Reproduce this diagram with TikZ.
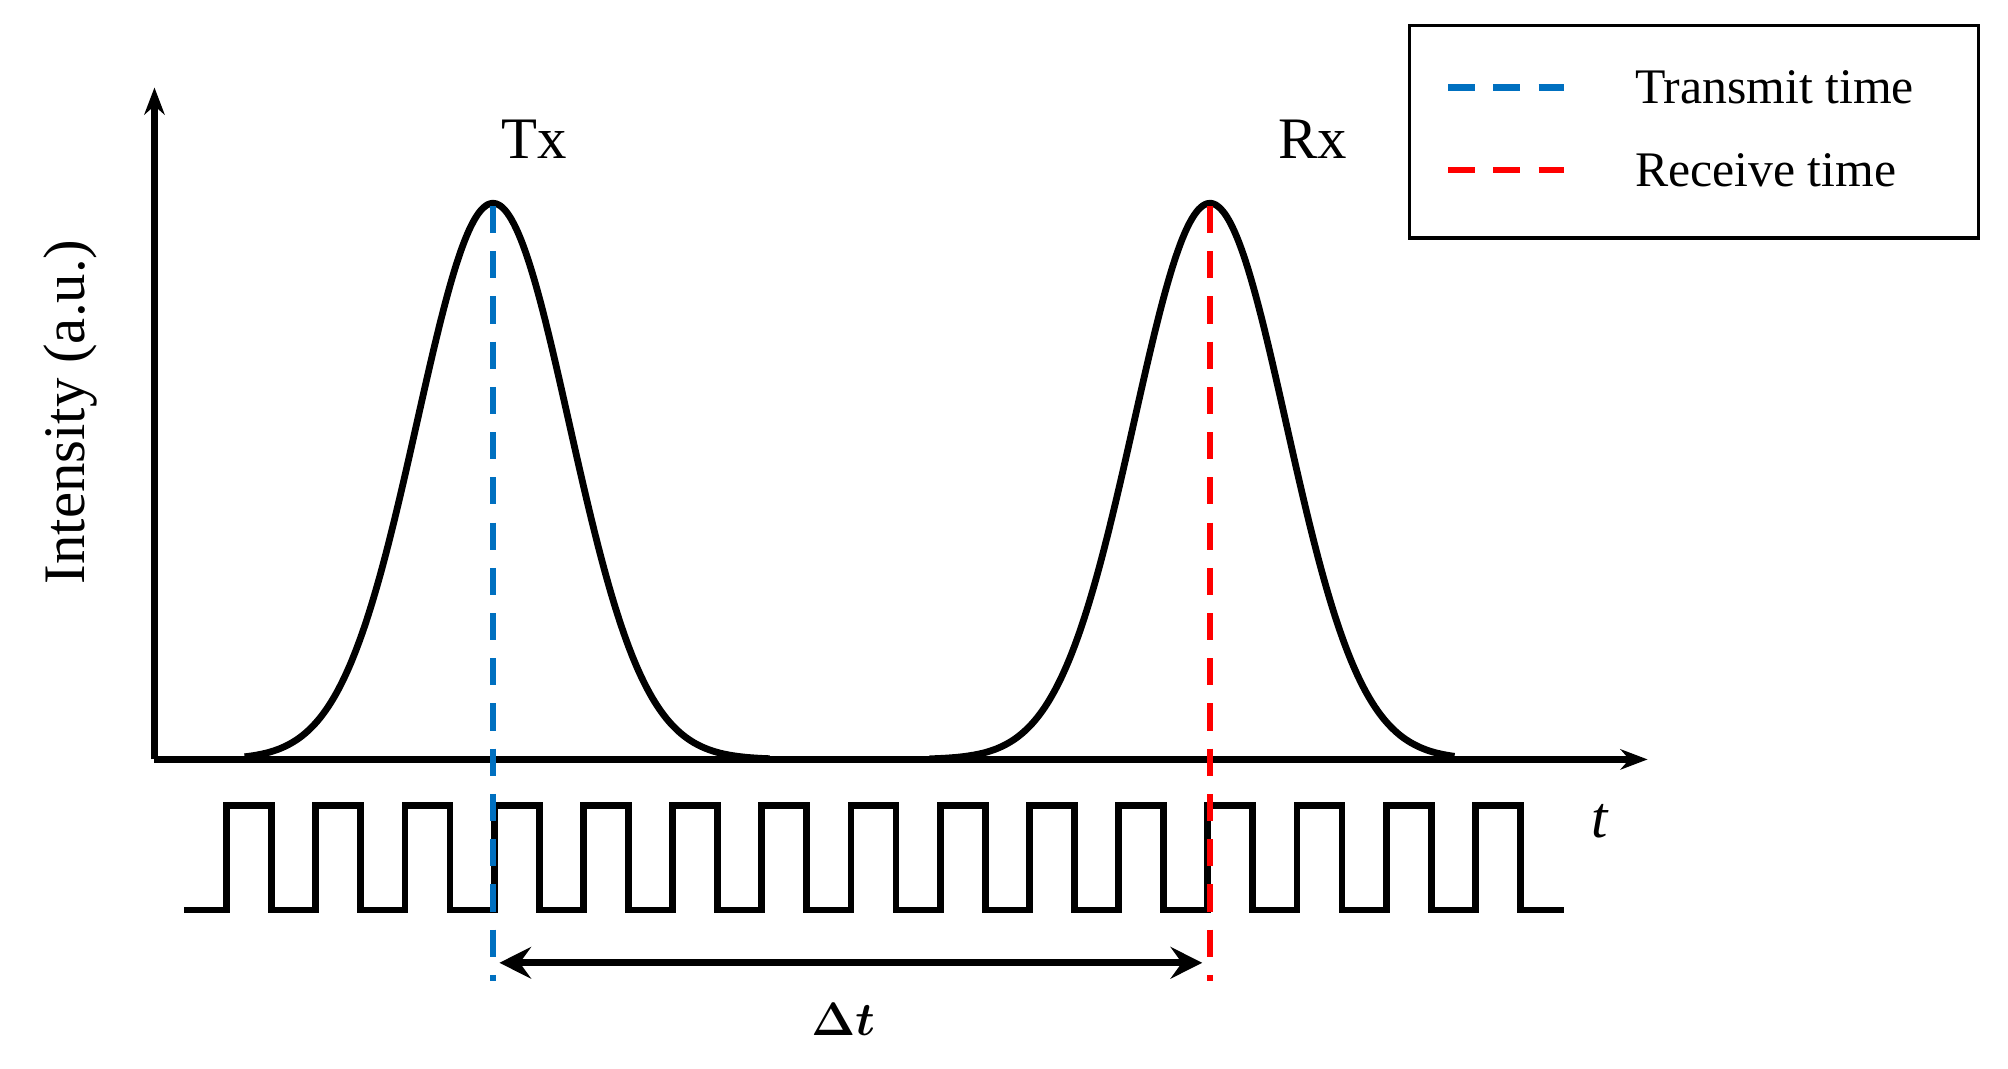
\documentclass[tikz,border=0pt]{standalone}
\usepackage{amsmath}
\usepackage{fontspec}
\setmainfont{Liberation Serif}
\usetikzlibrary{arrows.meta}
\definecolor{txblue}{RGB}{0,112,192}
\definecolor{rxred}{RGB}{255,0,0}
\tikzset{curve/.style={line width=3pt,black},
 mark line/.style={line width=3pt,dash pattern=on 12pt off 8pt},
 lbl/.style={font=\fontsize{22}{26}\selectfont,inner sep=0pt}}
\begin{document}
\begin{tikzpicture}[x=0.02cm,y=-0.02cm]
\useasboundingbox (0,0) rectangle (1560,830);
\coordinate (o) at (120,590);
\coordinate (ytop) at (120,68);
\coordinate (xend) at (1280,590);
\draw[curve,-{Stealth[length=12pt,width=9pt]}] (o) -- (ytop);
\draw[curve,-{Stealth[length=12pt,width=9pt]}] (o) -- (xend);
% pulses
\draw[curve,line join=round] plot[domain=-193:215,samples=120,smooth] ({383+\x},{590-432*exp(-0.5*(\x/59)^2)});
\draw[curve,line join=round] plot[domain=-218:190,samples=120,smooth] ({940+\x},{590-432*exp(-0.5*(\x/59)^2)});
% square wave
\draw[curve,line join=miter] (143,707)
 \foreach \i in {0,...,14} { -- ({176+69.3*\i},707) -- ({176+69.3*\i},626) -- ({211+69.3*\i},626) -- ({211+69.3*\i},707) } -- (1215,707);
% markers
\coordinate (txt) at (383,160); \coordinate (txb) at (383,762);
\coordinate (rxt) at (940,160); \coordinate (rxb) at (940,762);
\draw[mark line,txblue] (txt) -- (txb);
\draw[mark line,rxred] (rxt) -- (rxb);
\coordinate (da) at (388,748); \coordinate (db) at (934,748);
\draw[curve,{Stealth[length=14pt,width=14pt,inset=5pt]}-{Stealth[length=14pt,width=14pt,inset=5pt]}] (da) -- (db);
\node[lbl] (dt) at (655,792) {$\boldsymbol{\Delta t}$};
\node[lbl,font=\fontsize{26}{30}\selectfont] (t) at (1243,638) {\itshape t};
\node[lbl,font=\fontsize{26}{30}\selectfont] (tx) at (415,108) {Tx};
\node[lbl,font=\fontsize{26}{30}\selectfont] (rx) at (1020,108) {Rx};
\node[lbl,font=\fontsize{26}{30}\selectfont,rotate=90] (yl) at (55,320) {Intensity (a.u.)};
% legend
\node[draw,line width=1.5pt,minimum width=8.84cm,minimum height=3.3cm,inner sep=0pt] (leg) at (1316,102.5) {};
\draw[mark line,txblue] (1125,68) coordinate (l1a) -- (1215,68) coordinate (l1b);
\draw[mark line,rxred] (1125,132) coordinate (l2a) -- (1215,132) coordinate (l2b);
\node[lbl,anchor=west] (lt1) at (1270,68) {Transmit time};
\node[lbl,anchor=west] (lt2) at (1270,132) {Receive time};
\end{tikzpicture}
\end{document}
